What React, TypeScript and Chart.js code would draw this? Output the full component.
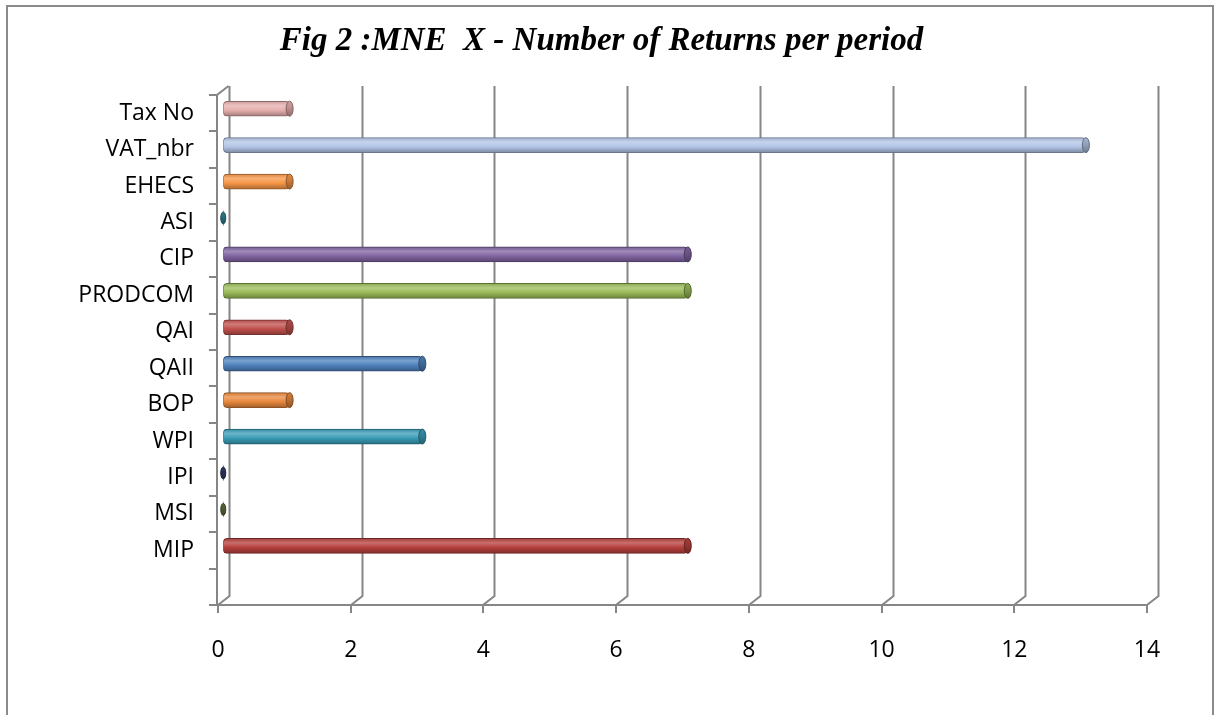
import { useEffect, useRef } from 'react';
import { Chart, registerables } from 'chart.js';

Chart.register(...registerables);

const titleText = 'Fig 2 :MNE  X - Number of Returns per period';
const categories = ['Tax No', 'VAT_nbr', 'EHECS', 'ASI', 'CIP', 'PRODCOM', 'QAI', 'QAII', 'BOP', 'WPI', 'IPI', 'MSI', 'MIP', ''];
const returnsPerPeriod = [1, 13, 1, 0, 7, 7, 1, 3, 1, 3, 0, 0, 7, null];
const barColors = ['#E6AFAE', '#B3C5E6', '#F79646', '#2F8397', '#8064A2', '#9BBB59', '#C0504D', '#4F81BD', '#E8883D', '#3A9DB6', '#2F3A66', '#5E6F3A', '#B5403E', '#FFFFFF'];
const xMin = 0;
const xMax = 14;
const xStep = 2;

const DX = 11.5;
const DY = 9;
const GRID = '#868686';
const LABEL_FONT = 'Open Sans';

function rgb(h: string): number[] {
  const s = h.replace('#', '');
  return [0, 2, 4].map((i) => parseInt(s.slice(i, i + 2), 16));
}
function mix(h: string, t: number[], w: number): string {
  const c = rgb(h);
  const r = c.map((v, i) => Math.round(v * (1 - w) + t[i] * w));
  return `rgb(${r[0]},${r[1]},${r[2]})`;
}
const lighten = (h: string, w: number) => mix(h, [255, 255, 255], w);
const darken = (h: string, w: number) => mix(h, [0, 0, 0], w);

const frame3d = {
  id: 'frame3d',
  beforeDraw(chart: any) {
    const ctx = chart.ctx;
    ctx.save();
    ctx.strokeStyle = '#8a8a8a';
    ctx.lineWidth = 2;
    ctx.strokeRect(7, 6, 1206, 800);
    ctx.restore();
  },
  beforeDatasetsDraw(chart: any) {
    const { ctx, chartArea: a, scales } = chart;
    const x = scales.x;
    const y = scales.y;
    const top = Math.round(a.top);
    const bottom = Math.round(a.bottom);
    const left = Math.round(a.left);
    ctx.save();
    ctx.strokeStyle = GRID;
    ctx.lineWidth = 2;
    ctx.beginPath();
    x.ticks.forEach((t: any) => {
      const px = Math.round(x.getPixelForValue(t.value));
      ctx.moveTo(px + DX, top - DY);
      ctx.lineTo(px + DX, bottom - DY);
      ctx.lineTo(px, bottom);
      ctx.moveTo(px, bottom);
      ctx.lineTo(px, bottom + 8);
    });
    ctx.moveTo(left - 9, bottom);
    ctx.lineTo(Math.round(a.right), bottom);
    ctx.moveTo(left - 1, bottom);
    ctx.lineTo(left - 1, top);
    ctx.lineTo(left - 1 + DX, top - DY);
    const n = categories.length;
    const band = (a.bottom - a.top) / n;
    for (let i = 0; i < n; i++) {
      const yy = Math.round(y.getPixelForValue(i) - band / 2);
      ctx.moveTo(left - 9, yy);
      ctx.lineTo(left - 1, yy);
    }
    ctx.stroke();
    ctx.restore();
    ctx.save();
    ctx.translate(DX / 2 - 0.5, -DY / 2);
  },
  afterDatasetsDraw(chart: any) {
    const ctx = chart.ctx;
    const meta = chart.getDatasetMeta(0);
    meta.data.forEach((el: any, i: number) => {
      const v = returnsPerPeriod[i];
      if (v === null || v === undefined) return;
      const p = el.getProps(['x', 'y', 'height'], true);
      const base = barColors[i];
      const ry = v === 0 ? p.height / 2 - 1.5 : p.height / 2;
      const rx = v === 0 ? 2.5 : 3.5;
      const g = ctx.createLinearGradient(0, p.y - ry, 0, p.y + ry);
      g.addColorStop(0, darken(base, 0.08));
      g.addColorStop(0.5, darken(base, 0.2));
      g.addColorStop(1, darken(base, 0.38));
      ctx.beginPath();
      ctx.ellipse(p.x, p.y, rx, ry, 0, 0, Math.PI * 2);
      ctx.fillStyle = g;
      ctx.fill();
      ctx.strokeStyle = darken(base, 0.45);
      ctx.lineWidth = 1;
      ctx.stroke();
    });
    ctx.restore();
  },
};

export default function App() {
  const ref = useRef<HTMLCanvasElement | null>(null);
  useEffect(() => {
    if (!ref.current) return;
    const chart = new Chart(ref.current, {
      type: 'bar',
      data: {
        labels: categories,
        datasets: [
          {
            data: returnsPerPeriod as any,
            barThickness: 15,
            backgroundColor: (c: any) => {
              const i = c.dataIndex;
              const base = barColors[i];
              const ys = c.chart.scales && c.chart.scales.y;
              if (!ys) return base;
              const yc = ys.getPixelForValue(i);
              if (!isFinite(yc)) return base;
              const g = c.chart.ctx.createLinearGradient(0, yc - 7.5, 0, yc + 7.5);
              g.addColorStop(0, darken(base, 0.1));
              g.addColorStop(0.3, lighten(base, 0.25));
              g.addColorStop(0.6, base);
              g.addColorStop(1, darken(base, 0.3));
              return g;
            },
            borderColor: (c: any) => darken(barColors[c.dataIndex], 0.4),
            borderWidth: (c: any) => (returnsPerPeriod[c.dataIndex] ? 1 : 0),
            borderRadius: 4,
            borderSkipped: false,
          } as any,
        ],
      },
      options: {
        indexAxis: 'y',
        responsive: false,
        animation: false,
        layout: { padding: { left: 56, right: 68, top: 0, bottom: 0 } },
        plugins: {
          legend: { display: false },
          tooltip: { enabled: false },
          title: {
            display: true,
            text: titleText,
            color: '#000',
            font: { family: 'Liberation Serif', size: 33, weight: 'bold', style: 'italic', lineHeight: 1.2 },
            padding: { top: 22, bottom: 33.4 },
          },
        },
        scales: {
          x: {
            type: 'linear',
            min: xMin,
            max: xMax,
            ticks: { stepSize: xStep, color: '#000', font: { family: LABEL_FONT, size: 23 }, padding: 32 },
            grid: { display: false, drawTicks: false },
            border: { display: false },
            afterFit: (s: any) => {
              s.height = 110;
            },
          },
          y: {
            type: 'category',
            offset: true,
            ticks: { color: '#000', font: { family: LABEL_FONT, size: 23 }, padding: 24, autoSkip: false },
            grid: { display: false, drawTicks: false },
            border: { display: false },
            afterFit: (s: any) => {
              s.width = 162;
            },
          },
        },
      } as any,
      plugins: [frame3d],
    });
    return () => chart.destroy();
  }, []);
  return (
    <div style={{ position: 'absolute', left: 0, top: 0, width: 1215, height: 715, background: '#fff' }}>
      <canvas ref={ref} width={1215} height={715} style={{ display: 'block' }} />
    </div>
  );
}
